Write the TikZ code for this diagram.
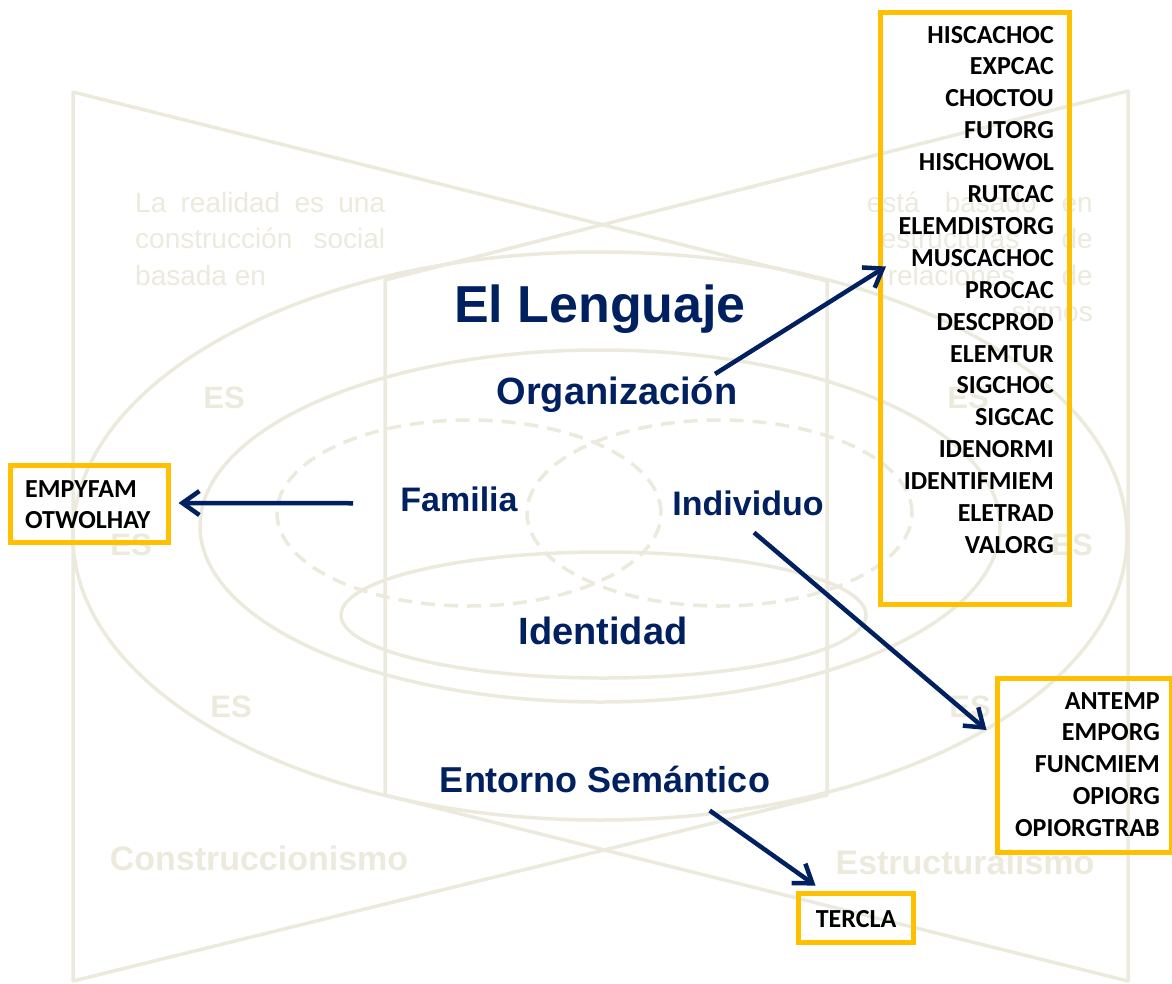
\documentclass[tikz,border=0pt]{standalone}
\usepackage{fontspec}
\setmainfont{Liberation Sans}
\newfontfamily\calibri{Carlito}
\usetikzlibrary{arrows.meta, positioning}

\definecolor{azul}{RGB}{0,32,96}
\definecolor{fondo}{RGB}{236,233,221}
\definecolor{oro}{RGB}{255,192,0}

\begin{document}
\begin{tikzpicture}[x=1pt, y=-1pt,
    trazo/.style={draw=fondo, line width=3.5pt},
    trazodash/.style={trazo, dash pattern=on 14pt off 9pt},
    tenue/.style={text=fondo, inner sep=0pt, font=\fontsize{28}{34}\selectfont},
    sigla/.style={text=fondo, inner sep=0pt, anchor=base, font=\bfseries\fontsize{31}{36}\selectfont},
    escuela/.style={text=fondo, inner sep=0pt, anchor=base, font=\bfseries\fontsize{34}{40}\selectfont},
    tema/.style={text=azul, inner sep=0pt, anchor=base, font=\bfseries\fontsize{38}{44}\selectfont},
    caja/.style={draw=oro, line width=5pt, inner sep=0pt},
    item/.style={inner sep=0pt, font=\calibri\bfseries\fontsize{26}{30}\selectfont},
    flecha/.style={draw=azul, line width=4.5pt, -{Straight Barb[length=17pt, width=24pt]}}
  ]
  \useasboundingbox (0,0) rectangle (1172,983);

  % Background: two crossed funnels
  \draw[trazo, line join=round] (73,92) -- (827,281) -- (827,795) -- (73,981) -- cycle;
  \draw[trazo, line join=round] (1128,91) -- (385,280) -- (385,795) -- (1128,981) -- cycle;

  % Background ellipses
  \draw[trazo] (600,536) ellipse [x radius=527pt, y radius=284pt];
  \draw[trazo] (600,526) ellipse [x radius=400pt, y radius=176pt];
  \draw[trazo] (603.5,615) ellipse [x radius=262.5pt, y radius=63pt];
  \draw[trazodash] (469,513) ellipse [x radius=192pt, y radius=93pt];
  \draw[trazodash] (719.5,513) ellipse [x radius=192.5pt, y radius=93pt];

  % Background texts
  \node[tenue, anchor=base west] (izq1) at (135,212) {\makebox[250pt][s]{La realidad es una}};
  \node[tenue, anchor=base west] (izq2) at (135,248) {\makebox[250pt][s]{construcción social}};
  \node[tenue, anchor=base west] (izq3) at (135,285) {basada en};
  \node[tenue, anchor=base east] (der1) at (1093,212) {\makebox[226pt][s]{está basado en}};
  \node[tenue, anchor=base east] (der2) at (1093,248) {\makebox[212pt][s]{estructuras de}};
  \node[tenue, anchor=base east] (der3) at (1093,285) {\makebox[205pt][s]{relaciones de}};
  \node[tenue, anchor=base east] (der4) at (1093,321) {signos};

  \node[sigla] (es1) at (224,408) {ES};
  \node[sigla] (es2) at (131,555) {ES};
  \node[sigla] (es3) at (231,717) {ES};
  \node[sigla] (es4) at (968,408) {ES};
  \node[sigla] (es5) at (1072,555) {ES};
  \node[sigla] (es6) at (970,717) {ES};

  \node[escuela] (constr) at (259,870) {Construccionismo};
  \node[escuela] (estruc) at (965,874) {Estructuralismo};

  % Main labels
  \node[tema, font=\bfseries\fontsize{52}{60}\selectfont] (lenguaje) at (600,322) {El Lenguaje};
  \node[tema] (org) at (617,404) {Organización};
  \node[tema, font=\bfseries\fontsize{34}{40}\selectfont] (fam) at (459,511) {Familia};
  \node[tema, font=\bfseries\fontsize{34}{40}\selectfont] (ind) at (748,515) {Individuo};
  \node[tema] (iden) at (603,644) {Identidad};
  \node[tema, font=\bfseries\fontsize{36}{42}\selectfont] (ent) at (605,792) {Entorno Semántico};

  % Yellow boxes
  \node[caja, minimum width=188.5pt, minimum height=592pt] (cajaorg) at (974.75,308.5) {};
  \node[caja, minimum width=158pt, minimum height=77pt] (cajafam) at (89.5,503.5) {};
  \node[caja, minimum width=174pt, minimum height=174pt] (cajaind) at (1084,765) {};
  \node[caja, minimum width=115pt, minimum height=49pt] (cajater) at (855.5,917.5) {};

  % Box contents
  \foreach \t [count=\i from 0] in {HISCACHOC,EXPCAC,CHOCTOU,FUTORG,HISCHOWOL,RUTCAC,ELEMDISTORG,MUSCACHOC,PROCAC,DESCPROD,ELEMTUR,SIGCHOC,SIGCAC,IDENORMI,IDENTIFMIEM,ELETRAD,VALORG}
    \node[item, anchor=base east] (lo\i) at (1054,{43+31.9*\i}) {\t};
  \foreach \t [count=\i from 0] in {EMPYFAM,OTWOLHAY}
    \node[item, anchor=base west] (lf\i) at (25,{497+31*\i}) {\t};
  \foreach \t [count=\i from 0] in {ANTEMP,EMPORG,FUNCMIEM,OPIORG,OPIORGTRAB}
    \node[item, anchor=base east] (li\i) at (1160,{709+31.8*\i}) {\t};
  \node[item, anchor=base] (lt0) at (856,927) {TERCLA};

  % Arrows
  \draw[flecha] ([shift={(-22.5,-2)}]org.north east) -- ([shift={(8,-42)}]cajaorg.west);
  \draw[flecha] ([shift={(-47,4.4)}]fam.west) -- ([shift={(7.5,-0.5)}]cajafam.east);
  \draw[flecha] ([shift={(6,17)}]ind.south) -- ([shift={(-8,-35)}]cajaind.west);
  \draw[flecha] ([shift={(-60.5,18)}]ent.south east) -- ([shift={(20,-5)}]cajater.north west);
\end{tikzpicture}
\end{document}
